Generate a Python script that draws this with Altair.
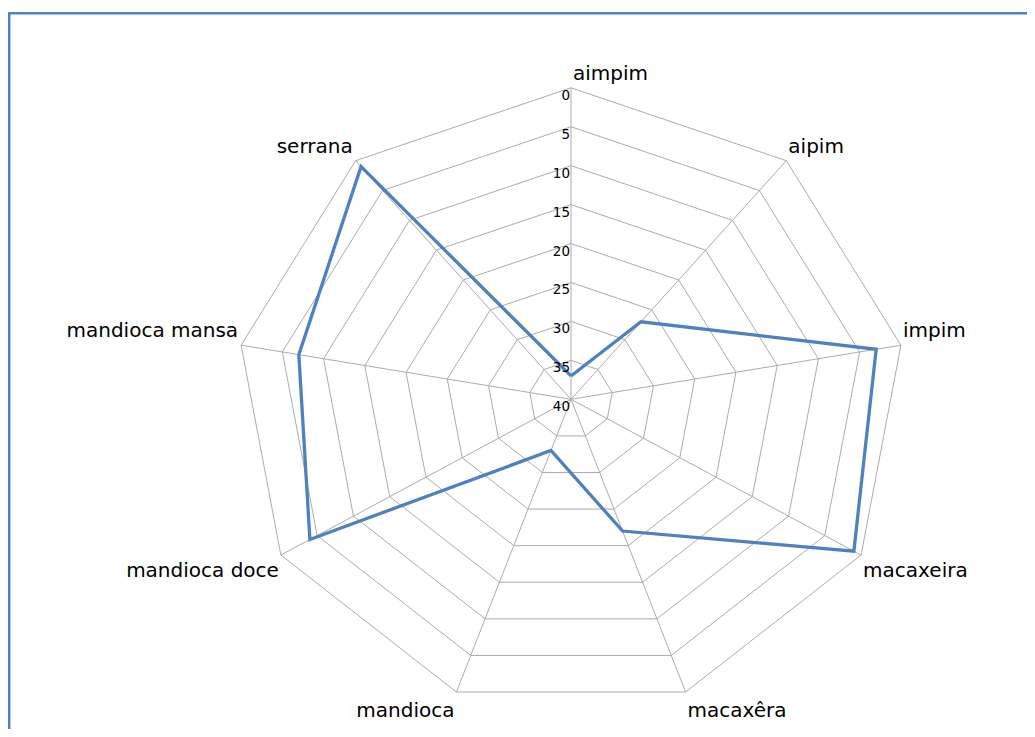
import altair as alt
import pandas as pd

# ---- data ----
categories = ["aimpim", "aipim", "impim", "macaxeira", "macaxêra",
              "mandioca", "mandioca doce", "mandioca mansa", "serrana"]
values = [37, 27, 3, 1, 22, 33, 4, 7, 1]
ring_levels = [0, 5, 10, 15, 20, 25, 30, 35]
tick_labels = [0, 5, 10, 15, 20, 25, 30, 35, 40]
axis_max = 40

# ---- layout (pixels) ----
W, H = 1019, 721
CX, CY = 571.0, 399.3      # page coords of radar centre
RX, RY = 335.0, 311.5      # outer radius horizontally / vertically
xdom = [-(CX - 8) / RX, (8 + W - CX) / RX]
ydom = [-(8 + H - CY) / RY, (CY - 8) / RY]

n = len(categories)
BLUE = "#4f81bd"
GRID = "#ababab"
FONT = "DejaVu Sans"

xs = alt.Scale(domain=xdom, nice=False, zero=False)
ys = alt.Scale(domain=ydom, nice=False, zero=False)

def polar(ch):
    return (ch.transform_calculate(r=f"({axis_max} - datum.v) / {axis_max}")
              .transform_calculate(ang=f"datum.idx * 2 * PI / {n}")
              .transform_calculate(x="datum.r * sin(datum.ang)",
                                   y="datum.r * cos(datum.ang)",
                                   x0="0", y0="0"))

X = alt.X("x:Q", scale=xs, axis=None)
Y = alt.Y("y:Q", scale=ys, axis=None)

# rings
ring_rows = [{"level": lv, "idx": i, "v": lv} for lv in ring_levels for i in range(n + 1)]
rings = polar(alt.Chart(pd.DataFrame(ring_rows))).mark_line(
    color=GRID, strokeWidth=1).encode(x=X, y=Y, detail="level:N", order="idx:Q")

# spokes
spoke_df = pd.DataFrame({"cat": categories, "idx": list(range(n)), "v": [0] * n})
spokes = polar(alt.Chart(spoke_df)).mark_rule(color=GRID, strokeWidth=1).encode(
    x=alt.X("x0:Q", scale=xs, axis=None), y=alt.Y("y0:Q", scale=ys, axis=None),
    x2="x:Q", y2="y:Q")

# series
ser_df = pd.DataFrame({"idx": list(range(n + 1)),
                       "v": values + [values[0]],
                       "cat": categories + [categories[0]]})
series = polar(alt.Chart(ser_df)).mark_line(
    color=BLUE, strokeWidth=3.3, strokeJoin="miter").encode(x=X, y=Y, order="idx:Q")

# tick labels on value axis
tick_df = pd.DataFrame({"v": tick_labels, "idx": [0] * len(tick_labels),
                        "lab": [str(t) for t in tick_labels]})
ticks = polar(alt.Chart(tick_df)).mark_text(
    align="right", baseline="alphabetic", dx=-1, dy=12, fontSize=13.5, font=FONT,
    color="#000000").encode(x=X, y=Y, text="lab:N")

# category labels (grouped by placement)
lab_df = pd.DataFrame({"cat": categories, "idx": list(range(n)), "v": [0] * n})
groups = [
    ([0, 1, 2], "left", 2, -8),
    ([3], "left", 2, 22),
    ([4], "left", 2, 25),
    ([5], "right", -2, 25),
    ([6], "right", -2, 22),
    ([7, 8], "right", -3, -8),
]
label_layers = []
for idxs, al, dx, dy in groups:
    cond = " || ".join(f"datum.idx == {i}" for i in idxs)
    label_layers.append(
        polar(alt.Chart(lab_df)).transform_filter(cond).mark_text(
            align=al, baseline="alphabetic", dx=dx, dy=dy, fontSize=20,
            font=FONT, color="#000000").encode(x=X, y=Y, text="cat:N"))

# chart-area frame (left and top edges visible in the reference)
frame_df = pd.DataFrame({"k": [0]})
frame_left = alt.Chart(frame_df).mark_rule(color=BLUE, strokeWidth=2.4).encode(
    x=alt.value(1.2), y=alt.value(4), y2=alt.value(H))
frame_top = alt.Chart(frame_df).mark_rule(color=BLUE, strokeWidth=2.4).encode(
    y=alt.value(5.2), x=alt.value(0), x2=alt.value(W))

chart = alt.layer(rings, spokes, series, ticks, *label_layers, frame_left, frame_top).properties(
    width=W, height=H, padding=0,
    autosize=alt.AutoSizeParams(type="none"),
    background="white",
).configure_view(stroke=None)

chart.save("out.html", embed_options={"renderer": "svg", "actions": False})
